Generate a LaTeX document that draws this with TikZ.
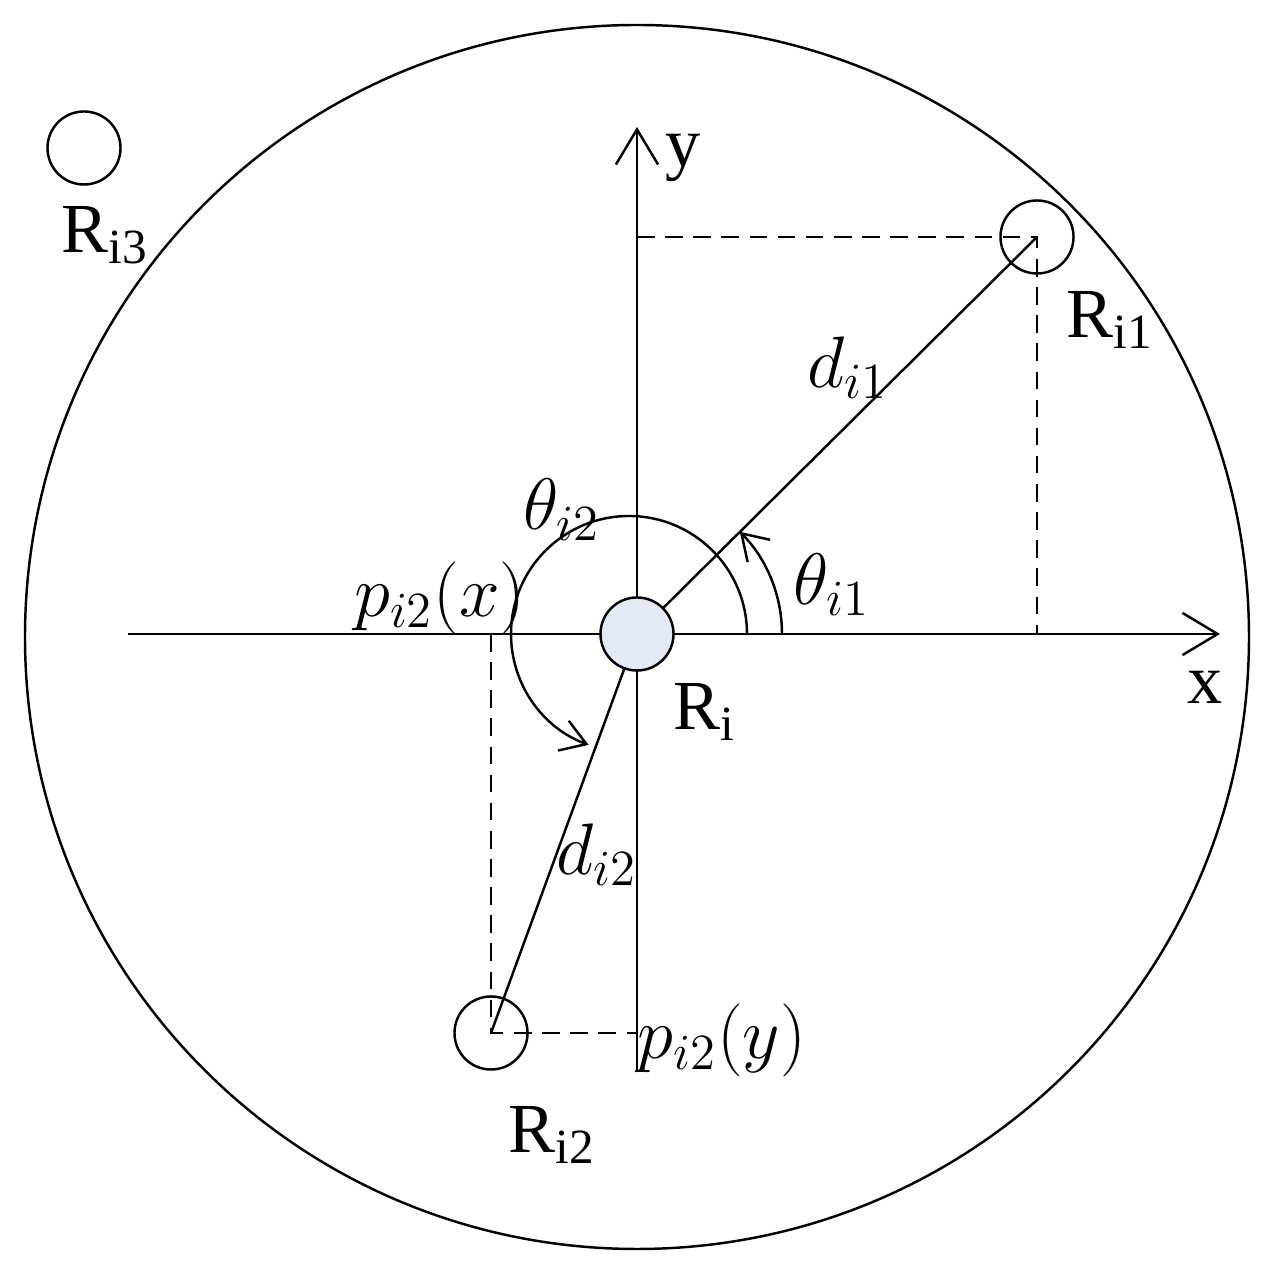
\documentclass[tikz,border=0pt]{standalone}
\usepackage{fontspec}
\setmainfont{Liberation Serif}
\usetikzlibrary{arrows.meta,calc}
\definecolor{riblue}{HTML}{E4EAF5}
\begin{document}
\begin{tikzpicture}[x=0.01cm,y=-0.01cm,
  lbl/.style={font=\fontsize{20}{24}\selectfont},
  ax/.style={line width=0.7pt,-{Straight Barb[length=10pt,width=12pt]}},
  dsh/.style={line width=0.7pt,dash pattern=on 5pt off 3pt},
  thin/.style={line width=0.7pt},
  rc/.style={circle,draw,line width=0.7pt,minimum size=0.73cm,inner sep=0pt}]
\useasboundingbox (0,0) rectangle (1275,1274);
\draw[thin] (637,637) circle[radius=612];
\coordinate (O) at (637,634);
\coordinate (R1) at (1037,237);
\coordinate (R2) at (491,1033);
\coordinate (xs) at (128,634);
\coordinate (xe) at (1220,634);
\coordinate (ys) at (637,1072);
\coordinate (ye) at (637,127);
\draw[ax] (xs) -- (xe);
\draw[ax] (ys) -- (ye);
\draw[dsh] (637,237) -- (R1) -- (1037,634);
\draw[dsh] (491,634) -- (R2) -- (637,1033);
\draw[thin] (O) -- (R1);
\draw[thin] (O) -- (R2);
\node[rc] (ri1) at (R1) {};
\node[rc] (ri2) at (R2) {};
\node[rc] (ri3) at (84,148) {};
\draw[thin,-{Straight Barb[length=7pt,width=9pt]}] ($(O)+(145,0)$) arc[start angle=0,end angle=-44.8,radius=145];
\draw[thin,-{Straight Barb[length=7pt,width=9pt]}] ($(O)+(110,0)$) arc[start angle=0,end angle=-250,radius=118];
\node[rc,fill=riblue] (ri) at (O) {};
\node[lbl] at (683,158) {y};
\node[lbl] at (1205,687) {x};
\node[lbl] at (705,712) {R\textsubscript{i}};
\node[lbl] at (1110,320) {R\textsubscript{i1}};
\node[lbl] at (552,1135) {R\textsubscript{i2}};
\node[lbl] at (105,235) {R\textsubscript{i3}};
\node[lbl] at (848,368) {$d_{i1}$};
\node[lbl] at (832,585) {$\theta_{i1}$};
\node[lbl] at (562,510) {$\theta_{i2}$};
\node[lbl] at (440,598) {$p_{i2}(x)$};
\node[lbl] at (597,855) {$d_{i2}$};
\node[lbl] at (722,1040) {$p_{i2}(y)$};
\end{tikzpicture}
\end{document}
